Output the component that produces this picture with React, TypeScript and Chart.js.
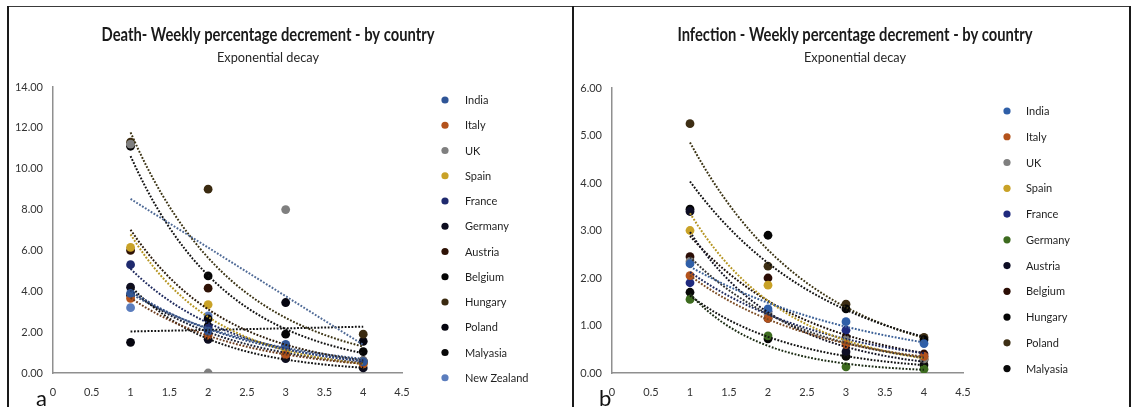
import React, { useEffect, useRef } from "react";
import { Chart, registerables } from "chart.js";

Chart.register(...registerables);

// ---------- shared ----------
const weeks = [1, 2, 3, 4];
const xTicks = [0, 0.5, 1, 1.5, 2, 2.5, 3, 3.5, 4, 4.5];

// ---------- Death chart (a) ----------
const deathTitle = "Death- Weekly percentage decrement - by country";
const deathSubtitle = "Exponential decay";
const deathYTicks = [0, 2, 4, 6, 8, 10, 12, 14];
const deathCountries = [
  "India", "Italy", "UK", "Spain", "France", "Germany",
  "Austria", "Belgium", "Hungary", "Poland", "Malyasia", "New Zealand",
];
const deathIndia = [3.9, 2.05, 1.4, 0.55];
const deathItaly = [3.65, 1.85, 0.9, 0.45];
const deathUK = [11.2, 0, 8.0, 0.6];
const deathSpain = [6.15, 3.35, 1.0, 0.45];
const deathFrance = [5.3, 2.2, 1.3, 0.55];
const deathGermany = [4.2, 1.65, 0.7, 0.25];
const deathAustria = [6.0, 4.15, 1.25, 0.6];
const deathBelgium = [11.1, 4.75, 1.9, 1.05];
const deathHungary = [11.3, 9.0, 1.2, 1.9];
const deathPoland = [1.5, 2.65, 3.45, 1.55];
const deathMalyasia = [3.8, 2.3, 0.9, 0.5];
const deathNewZealand = [3.2, 2.8, 1.35, 0.6];
const deathSeries = [
  deathIndia, deathItaly, deathUK, deathSpain, deathFrance, deathGermany,
  deathAustria, deathBelgium, deathHungary, deathPoland, deathMalyasia, deathNewZealand,
];
const deathColors = [
  "#2f5597", "#b4531c", "#7f7f7f", "#c9a227", "#1f2a6e", "#0d0d1f",
  "#2e1205", "#050505", "#3a2a10", "#05050f", "#080808", "#5b7dbd",
];
const deathTrendColors = [
  "#2f4a80", "#6b3a1c", "#4f6a96", "#b59420", "#1f2a5e", "#111111",
  "#2a1a0a", "#111111", "#3a3212", "#111111", "#1a1f33", "#3f5a88",
];
const deathTrendTypes = [
  "exp", "exp", "linear", "exp", "exp", "exp",
  "exp", "exp", "exp", "exp", "exp", "exp",
];

// ---------- Infection chart (b) ----------
const infTitle = "Infection - Weekly percentage decrement - by country";
const infSubtitle = "Exponential decay";
const infYTicks = [0, 1, 2, 3, 4, 5, 6];
const infCountries = [
  "India", "Italy", "UK", "Spain", "France", "Germany",
  "Austria", "Belgium", "Hungary", "Poland", "Malyasia",
];
const infIndia = [2.3, 1.35, 1.08, 0.62];
const infItaly = [2.05, 1.15, 0.6, 0.35];
const infUK = [2.35, 1.25, 0.7, 0.3];
const infSpain = [3.0, 1.85, 0.65, 0.3];
const infFrance = [1.9, 1.3, 0.9, 0.35];
const infGermany = [1.55, 0.78, 0.13, 0.08];
const infAustria = [3.4, 1.15, 0.45, 0.28];
const infBelgium = [2.45, 2.0, 0.75, 0.4];
const infHungary = [3.45, 2.9, 1.35, 0.7];
const infPoland = [5.25, 2.25, 1.45, 0.75];
const infMalyasia = [1.7, 0.72, 0.35, 0.17];
const infSeries = [
  infIndia, infItaly, infUK, infSpain, infFrance, infGermany,
  infAustria, infBelgium, infHungary, infPoland, infMalyasia,
];
const infColors = [
  "#2f5fa8", "#b4531c", "#7f7f7f", "#c9a227", "#1f2a7e", "#3d6b1f",
  "#0d0d24", "#2b0d05", "#050505", "#3d2e14", "#080808",
];
const infTrendColors = [
  "#3a5f96", "#7a4a22", "#333333", "#b59420", "#1f2a5e", "#1a2a12",
  "#111122", "#1a0d08", "#111111", "#3a3212", "#111111",
];
const infTrendTypes = [
  "exp", "exp", "exp", "exp", "exp", "exp",
  "exp", "exp", "exp", "exp", "exp",
];

// ---------- helpers ----------
const FONT = "Lato";

// least-squares trendline (Excel-style): exponential fits ln(y) on x
function trendPoints(ys: number[], kind: string) {
  const n = weeks.length;
  const mx = weeks.reduce((s, v) => s + v, 0) / n;
  const vals = kind === "exp" ? ys.map((v) => Math.log(v)) : ys.slice();
  const my = vals.reduce((s, v) => s + v, 0) / n;
  let sxy = 0;
  let sxx = 0;
  for (let i = 0; i < n; i++) {
    sxy += (weeks[i] - mx) * (vals[i] - my);
    sxx += (weeks[i] - mx) * (weeks[i] - mx);
  }
  const b = sxy / sxx;
  const a = my - b * mx;
  const pts: { x: number; y: number }[] = [];
  for (let k = 0; k <= 30; k++) {
    const x = weeks[0] + ((weeks[n - 1] - weeks[0]) * k) / 30;
    const y = kind === "exp" ? Math.exp(a + b * x) : a + b * x;
    pts.push({ x, y });
  }
  return pts;
}

type PanelCfg = {
  title: string;
  subtitle: string;
  titleX: number;
  countries: string[];
  colors: string[];
  legendMarkX: number;
  legendTextX: number;
  legendY0: number;
  legendStep: number;
  letter: string;
  letterX: number;
};

function makePanelPlugin(cfg: PanelCfg) {
  return {
    id: "panelText",
    afterDraw(chart: any) {
      const ctx = chart.ctx as CanvasRenderingContext2D;
      ctx.save();
      // title (condensed to mimic a narrow font)
      ctx.fillStyle = "#1a1a1a";
      ctx.textBaseline = "middle";
      ctx.textAlign = "center";
      ctx.font = `bold 18px ${FONT}`;
      const ref = ctx.measureText(deathTitle).width;
      const sx = 333 / ref;
      ctx.save();
      ctx.translate(cfg.titleX, 27);
      ctx.scale(sx, 1);
      ctx.fillText(cfg.title, 0, 0);
      ctx.restore();
      // subtitle
      ctx.font = `14px ${FONT}`;
      ctx.fillStyle = "#262626";
      const sw = ctx.measureText(cfg.subtitle).width;
      ctx.save();
      ctx.translate(cfg.titleX, 49);
      ctx.scale(102 / sw, 1);
      ctx.fillText(cfg.subtitle, 0, 0);
      ctx.restore();
      // legend
      ctx.textAlign = "left";
      ctx.font = `11px ${FONT}`;
      cfg.countries.forEach((name, i) => {
        const y = cfg.legendY0 + i * cfg.legendStep;
        ctx.beginPath();
        ctx.fillStyle = cfg.colors[i];
        ctx.arc(cfg.legendMarkX, y, 3.6, 0, Math.PI * 2);
        ctx.fill();
        ctx.fillStyle = "#1f1f1f";
        ctx.fillText(name, cfg.legendTextX, y + 0.5);
      });
      // panel letter
      ctx.font = `22px ${FONT}`;
      ctx.fillStyle = "#111";
      ctx.textBaseline = "alphabetic";
      ctx.fillText(cfg.letter, cfg.letterX, chart.height - 1);
      ctx.restore();
    },
  };
}

function buildChart(
  canvas: HTMLCanvasElement,
  series: number[][],
  colors: string[],
  trendColors: string[],
  trendTypes: string[],
  countries: string[],
  yTicks: number[],
  yAxisWidth: number,
  pad: { top: number; right: number },
  plugin: any
) {
  const scatterSets = series.map((vals, i) => ({
    type: "scatter" as const,
    label: countries[i],
    data: weeks.map((x, j) => ({ x, y: vals[j] })),
    backgroundColor: colors[i],
    borderColor: colors[i],
    borderWidth: 0,
    pointRadius: 4.4,
    pointHoverRadius: 4.4,
    order: 2,
  }));
  const trendSets = series.map((vals, i) => ({
    type: "line" as const,
    label: countries[i] + " trend",
    data: trendPoints(vals, trendTypes[i]),
    borderColor: trendColors[i],
    borderWidth: 2,
    borderDash: [1.8, 1.6],
    pointRadius: 0,
    fill: false,
    tension: 0,
    order: 1,
  }));
  const yMax = yTicks[yTicks.length - 1];
  return new Chart(canvas, {
    type: "scatter",
    data: { datasets: [...trendSets, ...scatterSets] as any },
    options: {
      animation: false,
      responsive: false,
      devicePixelRatio: 1,
      layout: { padding: { left: 0, top: pad.top, right: pad.right, bottom: 0 } },
      plugins: {
        legend: { display: false },
        title: { display: false },
        tooltip: { enabled: false },
      },
      scales: {
        x: {
          type: "linear",
          min: 0,
          max: 4.5,
          afterBuildTicks: (s: any) => {
            s.ticks = xTicks.map((v) => ({ value: v }));
          },
          afterFit: (s: any) => {
            s.height = 34;
          },
          grid: { display: false, drawTicks: false },
          border: { display: true, color: "#8f8f8f", width: 1.5 },
          ticks: {
            color: "#333",
            font: { family: FONT, size: 11 },
            padding: 13,
            maxRotation: 0,
            autoSkip: false,
            callback: (v: any) => String(v),
          },
        },
        y: {
          type: "linear",
          min: 0,
          max: yMax,
          afterBuildTicks: (s: any) => {
            s.ticks = yTicks.map((v) => ({ value: v }));
          },
          afterFit: (s: any) => {
            s.width = yAxisWidth;
          },
          grid: { display: false, drawTicks: false },
          border: { display: true, color: "#8f8f8f", width: 1.5 },
          ticks: {
            color: "#333",
            font: { family: FONT, size: 11 },
            padding: 10,
            autoSkip: false,
            callback: (v: any) => Number(v).toFixed(2),
          },
        },
      },
    },
    plugins: [plugin],
  });
}

export default function App() {
  const leftRef = useRef<HTMLCanvasElement>(null);
  const rightRef = useRef<HTMLCanvasElement>(null);

  useEffect(() => {
    const left = buildChart(
      leftRef.current!,
      deathSeries,
      deathColors,
      deathTrendColors,
      deathTrendTypes,
      deathCountries,
      deathYTicks,
      43,
      { top: 79, right: 170 },
      makePanelPlugin({
        title: deathTitle,
        subtitle: deathSubtitle,
        titleX: 258,
        countries: deathCountries,
        colors: deathColors,
        legendMarkX: 435,
        legendTextX: 455,
        legendY0: 92,
        legendStep: 25.25,
        letter: "a",
        letterX: 26,
      })
    );
    const right = buildChart(
      rightRef.current!,
      infSeries,
      infColors,
      infTrendColors,
      infTrendTypes,
      infCountries,
      infYTicks,
      37,
      { top: 80, right: 169 },
      makePanelPlugin({
        title: infTitle,
        subtitle: infSubtitle,
        titleX: 280,
        countries: infCountries,
        colors: infColors,
        legendMarkX: 432,
        legendTextX: 451,
        legendY0: 103,
        legendStep: 25.76,
        letter: "b",
        letterX: 24,
      })
    );
    return () => {
      left.destroy();
      right.destroy();
    };
  }, []);

  return (
    <div
      style={{
        position: "fixed",
        left: 0,
        top: 0,
        width: 1132,
        height: 407,
        background: "#fff",
        overflow: "hidden",
      }}
    >
      <canvas
        ref={leftRef}
        width={562}
        height={399}
        style={{ position: "absolute", left: 10, top: 8, width: 562, height: 399 }}
      />
      <canvas
        ref={rightRef}
        width={557}
        height={399}
        style={{ position: "absolute", left: 575, top: 8, width: 557, height: 399 }}
      />
      {/* panel frames */}
      <div style={{ position: "absolute", left: 7, top: 6, width: 1123, height: 1, background: "#3a3a3a" }} />
      <div style={{ position: "absolute", left: 7, top: 6, width: 2, height: 401, background: "#1a1a1a" }} />
      <div style={{ position: "absolute", left: 572, top: 6, width: 2, height: 401, background: "#1a1a1a" }} />
      <div style={{ position: "absolute", left: 1129, top: 6, width: 2, height: 401, background: "#1a1a1a" }} />
    </div>
  );
}
